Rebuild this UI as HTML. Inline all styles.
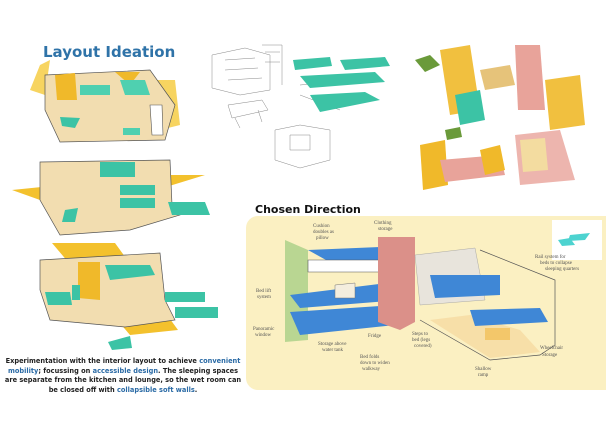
<!DOCTYPE html>
<html><head><meta charset="utf-8"><style>
body{margin:0;width:606px;height:429px;background:#fff;overflow:hidden;font-family:"Liberation Sans",sans-serif}
svg{position:absolute;left:0;top:0}
.t{font-family:"DejaVu Sans","Liberation Sans",sans-serif}
.cap{position:absolute;left:3px;top:357px;width:240px;font-size:6.6px;line-height:9.5px;text-align:center;color:#222;font-family:"DejaVu Sans",sans-serif;font-weight:bold}
.cap b{color:#2a6aa5}
</style></head><body>
<svg width="606" height="429" viewBox="0 0 606 429">
<text x="43" y="57" font-size="15" fill="#2f73a8" class="t" font-weight="bold">Layout Ideation</text>
<!-- sketch 1 -->
<polygon points="30,90 40,65 50,60 45,95" fill="#f7d460"/>
<polygon points="155,80 175,80 180,125 160,130" fill="#f7d460"/>
<polygon points="45,75 150,70 175,105 165,140 60,142 45,110" fill="#f2ddb0" stroke="#555" stroke-width="0.7"/>
<polygon points="55,75 75,73 77,100 57,100" fill="#f0b92a"/>
<polygon points="115,72 140,72 130,85" fill="#f0b92a"/>
<polygon points="80,85 110,85 110,95 80,95" fill="#4fd0b0"/>
<polygon points="120,80 145,80 150,95 125,95" fill="#4fd0b0"/>
<polygon points="60,117 80,118 75,128 62,126" fill="#3cc3a5"/>
<polygon points="123,128 140,128 140,135 123,135" fill="#4fd0b0"/>
<polygon points="150,105 162,105 163,135 152,135" fill="#fff" stroke="#555" stroke-width="0.6"/>
<!-- sketch 2 -->
<polygon points="12,190 160,175 205,175 140,195 40,200" fill="#f3c12d"/>
<polygon points="40,162 170,160 172,205 180,215 130,230 60,235 40,200" fill="#f2ddb0" stroke="#555" stroke-width="0.7"/>
<polygon points="100,162 135,162 135,177 100,177" fill="#3cc3a5"/>
<polygon points="120,185 155,185 155,195 120,195" fill="#3cc3a5"/>
<polygon points="120,198 155,198 155,208 120,208" fill="#3cc3a5"/>
<polygon points="168,202 205,202 210,215 172,215" fill="#3cc3a5"/>
<polygon points="65,210 78,208 75,222 62,222" fill="#3cc3a5"/>
<!-- sketch 3 -->
<polygon points="52,243 115,243 178,330 130,335" fill="#f3c12d"/>
<polygon points="40,260 160,253 165,300 175,320 125,327 50,320 40,290" fill="#f2ddb0" stroke="#555" stroke-width="0.7"/>
<polygon points="78,262 100,262 100,300 78,298" fill="#f0b92a"/>
<polygon points="105,265 150,265 155,275 110,280" fill="#3cc3a5"/>
<polygon points="45,292 70,292 72,305 48,305" fill="#3cc3a5"/>
<polygon points="72,285 80,285 80,300 72,300" fill="#3cc3a5"/>
<polygon points="165,292 205,292 205,302 165,302" fill="#3cc3a5"/>
<polygon points="175,307 218,307 218,318 175,318" fill="#3cc3a5"/>
<polygon points="108,342 130,336 132,348 112,350" fill="#3cc3a5"/>
<!-- middle top sketches -->
<g stroke="#888" stroke-width="0.5" fill="none">
<path d="M212,55 L245,48 L270,55 L270,90 L240,95 L212,88 Z M225,60 L255,58 M225,70 L258,68 M228,80 L262,78"/>
<path d="M262,45 L282,45 L282,85 M265,52 L280,52 M265,62 L280,62"/>
<path d="M228,105 L262,100 L268,110 L232,118 Z M235,118 L240,128 M258,110 L262,122"/>
<path d="M275,130 L300,125 L330,130 L330,160 L300,168 L275,160 Z M290,135 L310,135 L310,150 L290,150 Z"/>
<path d="M300,85 L355,80 M300,95 L340,110"/>
</g>
<polygon points="293,60 330,57 332,66 295,70" fill="#3cc3a5"/>
<polygon points="340,60 385,57 390,66 345,70" fill="#3cc3a5"/>
<polygon points="300,76 375,72 385,82 310,88" fill="#3cc3a5"/>
<polygon points="310,95 365,92 380,100 320,112" fill="#3cc3a5"/>
<!-- top right -->
<polygon points="415,60 430,55 440,65 425,72" fill="#6a9a3a"/>
<polygon points="440,50 470,45 480,110 450,115" fill="#f0b92a" opacity="0.9"/>
<polygon points="480,70 510,65 515,85 485,90" fill="#e6c37a"/>
<polygon points="515,45 540,45 545,110 518,110" fill="#e8a39a"/>
<polygon points="545,80 580,75 585,125 550,130" fill="#f0b92a" opacity="0.9"/>
<polygon points="455,95 480,90 485,120 460,125" fill="#3cc3a5"/>
<polygon points="445,130 460,127 462,137 447,140" fill="#6a9a3a"/>
<polygon points="420,145 445,140 448,185 423,190" fill="#f0b92a"/>
<polygon points="440,160 500,155 505,175 445,182" fill="#e8a39a"/>
<polygon points="480,150 500,145 505,170 485,175" fill="#f0b92a"/>
<polygon points="515,135 560,130 575,180 520,185" fill="#e8a39a" opacity="0.8"/>
<polygon points="520,140 545,138 548,170 523,172" fill="#f3dca0"/>
<!-- chosen direction -->
<text x="255" y="213" font-size="11" fill="#111" class="t" font-weight="bold">Chosen Direction</text>
<rect x="246" y="216" width="372" height="174" rx="12" fill="#fbf0c2"/>
<rect x="552" y="220" width="50" height="40" fill="#fff"/>
<polygon points="285,240 308,250 308,340 285,342" fill="#b9d692"/>
<polygon points="308,250 380,247 410,260 335,265" fill="#3f87d6"/>
<polygon points="308,260 410,260 410,272 308,272" fill="#fff" stroke="#555" stroke-width="0.6"/>
<polygon points="290,295 395,282 400,300 300,308" fill="#3f87d6"/>
<polygon points="290,312 395,305 395,325 300,335" fill="#3f87d6"/>
<polygon points="335,285 355,283 355,298 335,298" fill="#f4eede" stroke="#777" stroke-width="0.5"/>
<polygon points="378,237 415,237 415,322 400,330 378,322" fill="#db9089"/>
<polygon points="415,255 475,248 485,300 420,305" fill="#e8e4dc" stroke="#999" stroke-width="0.4"/>
<path d="M420,320 L490,360 L540,355 L555,345 L555,280 L480,250" fill="none" stroke="#555" stroke-width="0.7"/>
<polygon points="430,320 490,358 540,352 520,330 470,315" fill="#f7dfa8"/>
<polygon points="430,275 500,275 500,295 435,298" fill="#3f87d6"/>
<polygon points="470,310 540,308 548,322 475,326" fill="#3f87d6"/>
<polygon points="485,328 510,328 510,340 485,340" fill="#f3c76a"/>
<polygon points="570,235 590,233 585,240 568,241" fill="#4dd3d0"/>
<polygon points="558,240 570,238 575,245 562,246" fill="#4dd3d0"/>
<g font-size="5" fill="#555" font-family="Liberation Serif,serif">
<text x="313" y="227">Cushion</text><text x="313" y="233">doubles as</text><text x="316" y="239">pillow</text>
<text x="374" y="224">Clothing</text><text x="378" y="230">storage</text>
<text x="256" y="292">Bed lift</text><text x="257" y="298">system</text>
<text x="253" y="330">Panoramic</text><text x="255" y="336">window</text>
<text x="318" y="345">Storage above</text><text x="322" y="351">water tank</text>
<text x="368" y="337">Fridge</text>
<text x="360" y="358">Bed folds</text><text x="360" y="364">down to widen</text><text x="362" y="370">walkway</text>
<text x="412" y="335">Steps to</text><text x="412" y="341">bed (legs</text><text x="414" y="347">covered)</text>
<text x="475" y="370">Shallow</text><text x="478" y="376">ramp</text>
<text x="540" y="349">Wheelchair</text><text x="542" y="356">Storage</text>
<text x="535" y="258">Rail system for</text><text x="540" y="264">beds to collapse</text><text x="545" y="270">sleeping quarters</text>
</g>
</svg>
<div class="cap">Experimentation with the interior layout to achieve <b>convenient mobility</b>; focussing on <b>accessible design</b>. The sleeping spaces are separate from the kitchen and lounge, so the wet room can be closed off with <b>collapsible soft walls</b>.</div>
</body></html>
